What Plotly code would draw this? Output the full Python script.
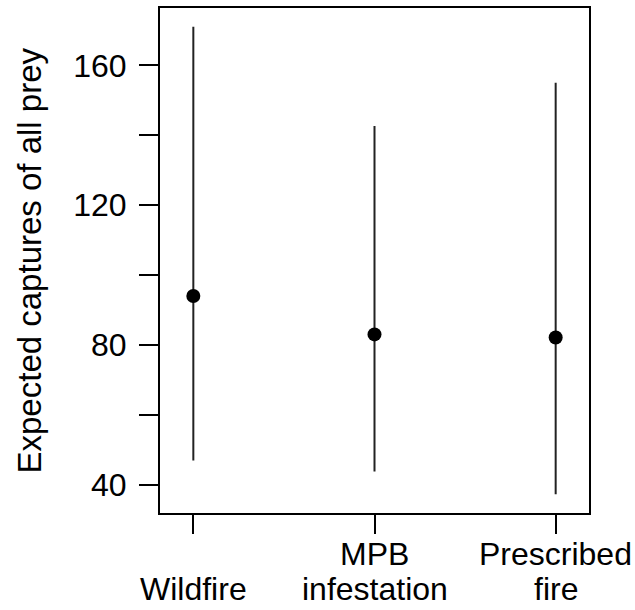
import plotly.graph_objects as go

categories = ["Wildfire", "MPB\ninfestation", "Prescribed\nfire"]
estimates = [94.0, 83.0, 82.1]
lower = [46.9, 43.8, 37.3]
upper = [171.0, 142.6, 155.0]
y_tick_vals = [40, 60, 80, 100, 120, 140, 160]
y_tick_text = ["40", "", "80", "", "120", "", "160"]
y_title = "Expected captures of all prey"

positions = list(range(1, len(categories) + 1))
FONT = "Liberation Sans, Arial, sans-serif"
FS = 32

fig = go.Figure()
fig.add_trace(go.Scatter(
    x=positions, y=estimates, mode="markers",
    marker=dict(size=14, color="black"),
    error_y=dict(type="data", symmetric=False,
                 array=[u - e for u, e in zip(upper, estimates)],
                 arrayminus=[e - l for e, l in zip(estimates, lower)],
                 width=0, thickness=2, color="#222222"),
    showlegend=False, hoverinfo="skip",
))

W, H = 635, 610
ml, mr, mt, mb = 160, 46, 8, 97
ph = H - mt - mb
pw = W - ml - mr

annotations = []
for p, lab in zip(positions, categories):
    lines = lab.split("\n")
    for i, line in enumerate(reversed(lines)):
        annotations.append(dict(
            x=p, xref="x", y=-(mb - 1) / ph, yref="paper",
            xanchor="center", yanchor="bottom", showarrow=False,
            text=line, yshift=35 * i,
            font=dict(family=FONT, size=FS, color="black"),
        ))
annotations.append(dict(
    x=-(ml - 29) / pw, xref="paper", y=0.5, yref="paper",
    xanchor="center", yanchor="middle", showarrow=False,
    text=y_title, textangle=-90,
    font=dict(family=FONT, size=33, color="black"),
))

fig.update_layout(
    width=W, height=H,
    margin=dict(l=ml, r=mr, t=mt, b=mb, autoexpand=False),
    paper_bgcolor="white", plot_bgcolor="white",
    font=dict(family=FONT, size=FS, color="black"),
    annotations=annotations,
    xaxis=dict(range=[0.816, 3.184], tickvals=positions, showticklabels=False,
               ticks="outside", ticklen=19, tickwidth=2, tickcolor="black",
               showline=True, linewidth=2, linecolor="black", mirror=True,
               showgrid=False, zeroline=False),
    yaxis=dict(range=[31.9, 176.4], tickvals=y_tick_vals, ticktext=y_tick_text,
               ticks="outside", ticklen=19, tickwidth=2, tickcolor="black",
               ticklabelstandoff=6,
               showline=True, linewidth=2, linecolor="black", mirror=True,
               showgrid=False, zeroline=False,
               tickfont=dict(family=FONT, size=FS, color="black")),
)

fig.write_html("out.html")
